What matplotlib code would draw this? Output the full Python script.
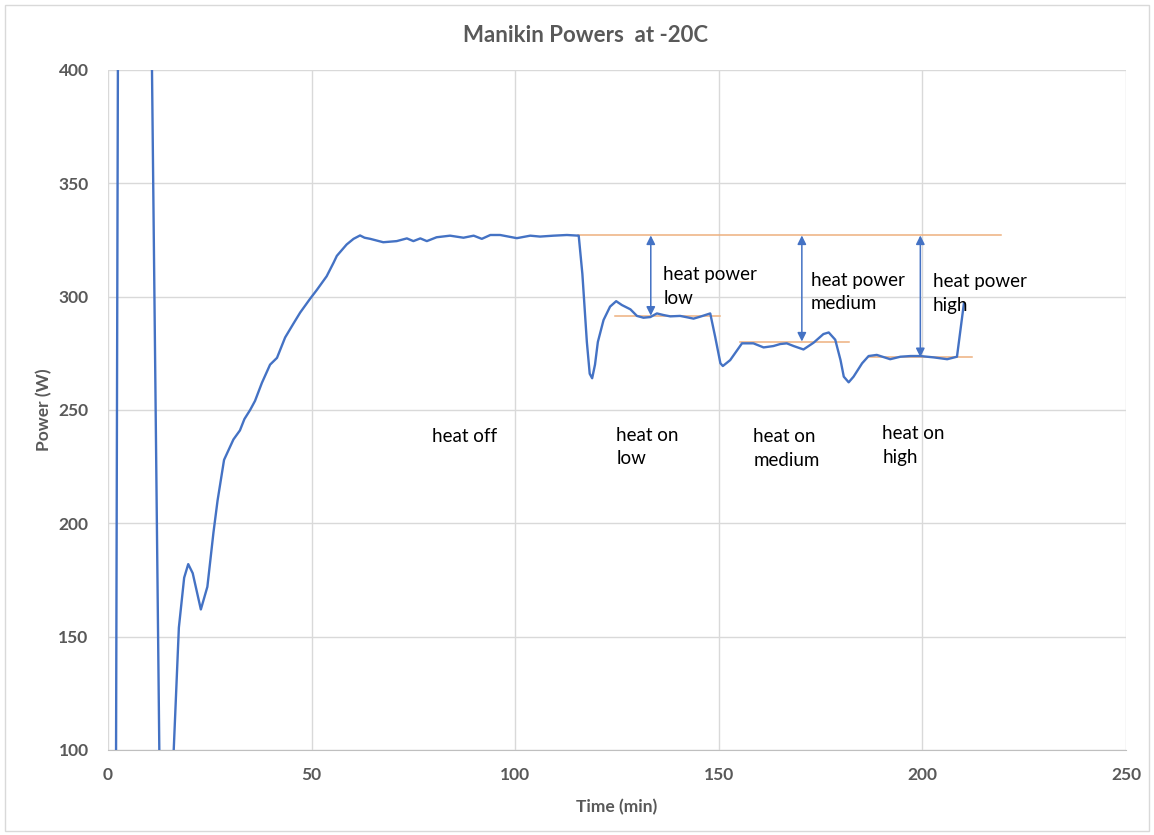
import matplotlib
matplotlib.use("Agg")
import matplotlib.pyplot as plt
from matplotlib.patches import Rectangle

# ----------------------------------------------------------
# Data
# ----------------------------------------------------------

time_min = [
    1.9, 2.5, 6.0, 10.5, 12.9, 14.0, 15.2, 17.4, 18.7, 19.7, 20.8, 22.8,
    24.4, 25.9, 26.9, 28.5, 30.8, 32.4, 33.5, 34.9, 36.1, 37.8, 39.8, 41.5,
    43.5, 45.5, 47.2, 49.6, 51.3, 53.7, 55.4, 56.2, 58.6, 60.3, 61.9, 63.0,
    64.4, 67.6, 70.9, 73.4, 75.0, 76.7, 78.3, 80.7, 84.0, 87.3, 89.8, 91.8,
    93.9, 96.3, 100.4, 103.7, 106.1, 109.4, 112.7, 115.6, 116.5, 117.6,
    118.3, 118.9, 119.6, 120.3, 121.7, 123.3, 124.8, 126.2, 128.3, 129.9,
    131.5, 133.2, 134.8, 136.4, 138.1, 140.5, 142.2, 143.8, 145.5, 147.9,
    149.1, 150.4, 151.0, 152.8, 155.7, 158.5, 161.0, 163.4, 165.1, 166.7,
    168.4, 170.8, 173.3, 175.7, 177.0, 178.6, 179.9, 180.7, 181.9, 183.1,
    185.2, 186.8, 188.8, 192.1, 194.6, 197.1, 199.5, 202.8, 206.1, 208.5,
    210.2,
]

power_w = [
    50, 450, 600, 450, 50, 30, 60, 154, 176, 182, 178, 162,
    172, 196, 210, 228, 237, 241, 246, 250, 254, 262, 270, 273,
    282, 288, 293, 299, 303, 309, 315, 318, 323, 325.5, 327, 326,
    325.5, 324, 324.5, 325.7, 324.5, 325.7, 324.5, 326.2, 326.9, 326, 326.9, 325.5,
    327.2, 327.2, 325.8, 326.9, 326.5, 326.9, 327.2, 326.9, 310, 280,
    266, 264, 270, 280, 289.7, 295.6, 298, 296.3, 294.4, 291.5,
    290.7, 291, 292.6, 291.9, 291.3, 291.5, 290.9, 290.3, 291.2, 292.6,
    282.4, 270.6, 269.4, 272, 279.4, 279.4, 277.6, 278.2, 279.1, 279.4,
    278.2, 276.7, 279.7, 283.5, 284.2, 281, 272, 264.7, 262.2, 264.7,
    270.6, 273.8, 274.3, 272.4, 273.5, 273.8, 273.8, 273.2, 272.4, 273.5,
    297,
]

# reference levels: (start, end, power)
levels = [
    (115.5, 219.2, 327.0),   # heat off
    (124.6, 150.4, 291.6),   # low
    (155.3, 181.9, 280.2),   # medium
    (186.8, 212.2, 273.3),   # high
]

# double arrows: (time, top, bottom)
arrows = [
    (133.3, 327.0, 291.6),
    (170.4, 327.0, 280.2),
    (199.5, 327.0, 273.3),
]

# labels: (time, power, text)
power_labels = [
    (136.4, 304.5, "heat power\nlow"),
    (172.6, 302.2, "heat power\nmedium"),
    (202.6, 301.4, "heat power\nhigh"),
]

phase_labels = [
    (79.6, 238.1, "heat off"),
    (124.8, 233.8, "heat on\nlow"),
    (158.5, 233.0, "heat on\nmedium"),
    (190.2, 234.3, "heat on\nhigh"),
]

# ----------------------------------------------------------
# Plot
# ----------------------------------------------------------

plt.rcParams["font.family"] = ["Lato", "DejaVu Sans"]

BLUE = "#4472C4"
ORANGE = "#EDB07E"
GREY = "#595959"

fig = plt.figure(figsize=(11.54, 8.35), dpi=100)
ax = fig.add_axes([0.0936, 0.1018, 0.8821, 0.8144])

ax.plot(time_min, power_w, color=BLUE, linewidth=1.7, zorder=3)

for start, end, level in levels:
    ax.plot([start, end], [level, level], color=ORANGE, linewidth=1.1, zorder=2)

for t, top, bottom in arrows:
    ax.annotate(
        "", xy=(t, bottom), xytext=(t, top),
        arrowprops=dict(arrowstyle="<|-|>", color=BLUE, lw=1.1,
                        mutation_scale=13, shrinkA=0, shrinkB=0),
        zorder=4,
    )

for t, p, text in power_labels + phase_labels:
    ax.text(t, p, text, fontsize=13.5, color="black", va="center",
            ha="left", linespacing=1.45)

ax.set_xlim(0, 250)
ax.set_ylim(100, 400)
ax.set_xticks(range(0, 251, 50))
ax.set_yticks(range(100, 401, 50))

ax.grid(True, color="#D9D9D9", linewidth=1)
ax.set_axisbelow(True)

for side in ["top", "right", "left"]:
    ax.spines[side].set_visible(False)
ax.spines["bottom"].set_color("#BFBFBF")

ax.tick_params(axis="both", length=0, labelsize=12.5, labelcolor=GREY)
ax.tick_params(axis="y", pad=14)
ax.tick_params(axis="x", pad=12)
for label in ax.get_xticklabels() + ax.get_yticklabels():
    label.set_fontweight("bold")

ax.set_xlabel("Time (min)", fontsize=12.5, fontweight="bold", color=GREY, labelpad=12)
ax.set_ylabel("Power (W)", fontsize=12.5, fontweight="bold", color=GREY, labelpad=4)

fig.text(0.507, 0.958, "Manikin Powers  at -20C", fontsize=16,
         fontweight="bold", color=GREY, ha="center", va="center")

fig.patches.append(Rectangle((0.004, 0.005), 0.992, 0.989, transform=fig.transFigure,
                             fill=False, edgecolor="#D9D9D9", linewidth=1))

fig.savefig("out.png", dpi=100)
plt.close(fig)
